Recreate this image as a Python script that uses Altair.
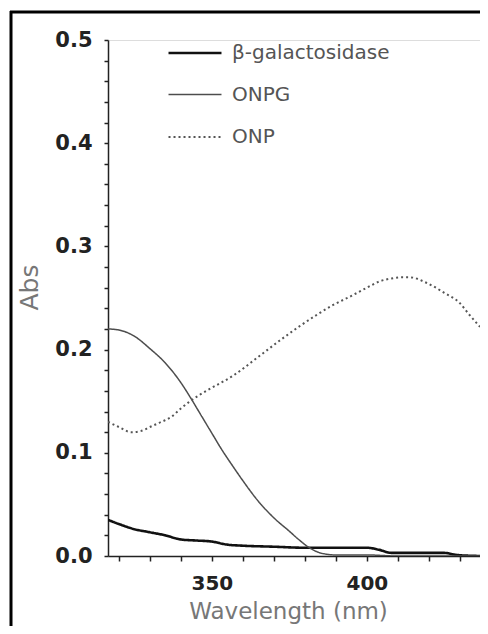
import altair as alt
import pandas as pd

series_names = ["β-galactosidase", "ONPG", "ONP"]

beta_wl = [316.5, 320, 325, 330, 335, 340, 345, 350, 355, 360, 370, 380, 390, 400, 404, 408, 415, 425, 429, 436.5]
beta_abs = [0.035, 0.031, 0.026, 0.023, 0.020, 0.016, 0.015, 0.014, 0.011, 0.010, 0.009, 0.008, 0.008, 0.008, 0.006, 0.003, 0.003, 0.003, 0.001, 0.0]

onpg_wl = [316.5, 320, 325, 330, 335, 340, 343, 346, 350, 353, 357, 360, 365, 370, 375, 378, 382, 385, 390, 400, 410, 420, 430, 436.5]
onpg_abs = [0.220, 0.219, 0.213, 0.201, 0.187, 0.168, 0.154, 0.139, 0.119, 0.104, 0.086, 0.073, 0.053, 0.037, 0.024, 0.016, 0.007, 0.003, 0.001, 0.001, 0.0, 0.0, 0.0, 0.0]

onp_wl = [316.5, 320, 324, 327, 330, 333, 337, 340, 343, 346, 350, 357, 365, 372, 378, 384, 389, 395, 400, 404, 408, 411, 414, 419, 425, 430, 433, 436.5]
onp_abs = [0.130, 0.125, 0.120, 0.121, 0.125, 0.129, 0.135, 0.143, 0.150, 0.156, 0.163, 0.175, 0.193, 0.209, 0.222, 0.234, 0.243, 0.252, 0.260, 0.266, 0.269, 0.270, 0.270, 0.265, 0.255, 0.245, 0.234, 0.222]

x_ticks = [320, 330, 340, 350, 360, 370, 380, 390, 400, 410, 420, 430]
y_ticks = [0.0, 0.02, 0.04, 0.06, 0.08, 0.1, 0.12, 0.14, 0.16, 0.18, 0.2, 0.22, 0.24,
           0.26, 0.28, 0.3, 0.32, 0.34, 0.36, 0.38, 0.4, 0.42, 0.44, 0.46, 0.48, 0.5]

rows = []
for name, wl, ab in [(series_names[0], beta_wl, beta_abs),
                     (series_names[1], onpg_wl, onpg_abs),
                     (series_names[2], onp_wl, onp_abs)]:
    for w, a in zip(wl, ab):
        rows.append({"series": name, "wavelength": w, "abs": a})
df = pd.DataFrame(rows)

leg = alt.Legend(
    title=None, orient="none", legendX=75, legendY=1,
    symbolType="M-2.5,0H2.5", symbolSize=449,
    labelFont="DejaVu Sans", labelFontSize=20, labelColor="#555555",
    labelOffset=25, rowPadding=20, padding=0, labelLimit=400,
)

lines = alt.Chart(df).mark_line(interpolate="monotone", clip=True).encode(
    x=alt.X("wavelength:Q",
            scale=alt.Scale(domain=[316.5, 436.5], nice=False, zero=False),
            axis=alt.Axis(values=x_ticks,
                          labelExpr="(datum.value == 350 || datum.value == 400) ? datum.label : ''",
                          labelFont="DejaVu Sans", labelFontWeight="bold", labelFontSize=20,
                          labelColor="#222222", labelPadding=12, labelOverlap=False, labelFlush=False,
                          tickSize=5, tickColor="#222222", tickWidth=1.5,
                          domainColor="#222222", domainWidth=1.5, grid=False,
                          title="Wavelength (nm)", titleFont="DejaVu Sans", titleFontSize=23,
                          titleFontWeight="normal", titleColor="#777777",
                          titleX=180, titleY=62, titleBaseline="alphabetic", titleAlign="center")),
    y=alt.Y("abs:Q",
            scale=alt.Scale(domain=[0, 0.5], nice=False),
            axis=alt.Axis(values=y_ticks,
                          labelExpr="(abs(datum.value*10 - round(datum.value*10)) < 0.001) ? format(datum.value, '.1f') : ''",
                          labelFont="DejaVu Sans", labelFontWeight="bold", labelFontSize=21,
                          labelColor="#222222", labelPadding=12, labelOverlap=False, labelFlush=False,
                          tickSize=4, tickColor="#222222", tickWidth=1.5,
                          domainColor="#222222", domainWidth=1.5, grid=False,
                          title="Abs", titleFont="DejaVu Sans", titleFontSize=25,
                          titleFontWeight="normal", titleColor="#777777",
                          titleX=-71, titleY=247, titleBaseline="alphabetic", titleAlign="center",
                          titleAngle=270)),
    color=alt.Color("series:N",
                    scale=alt.Scale(domain=series_names, range=["#111111", "#4d4d4d", "#555555"]),
                    legend=leg),
    strokeDash=alt.StrokeDash("series:N",
                              scale=alt.Scale(domain=series_names, range=[[1, 0], [1, 0], [2, 3]]),
                              legend=leg),
    strokeWidth=alt.StrokeWidth("series:N",
                                scale=alt.Scale(type="ordinal", domain=series_names, range=[2.6, 1.5, 2.0]),
                                legend=leg),
)

frame_df = pd.DataFrame({"k": [0]})
frame_top = alt.Chart(frame_df).mark_rule(color="black", strokeWidth=3).encode(
    x=alt.value(-98), x2=alt.value(372), y=alt.value(-28))
frame_left = alt.Chart(frame_df).mark_rule(color="black", strokeWidth=3).encode(
    x=alt.value(-97), y=alt.value(-29), y2=alt.value(586))

chart = alt.layer(lines, frame_top, frame_left).properties(
    width=372, height=516,
    autosize=alt.AutoSizeParams(type="none"),
    padding={"left": 100, "top": 32, "right": 0, "bottom": 70},
).configure_view(strokeWidth=0).configure(background="white")

chart.save("out.html", embed_options={"renderer": "svg", "actions": False})
